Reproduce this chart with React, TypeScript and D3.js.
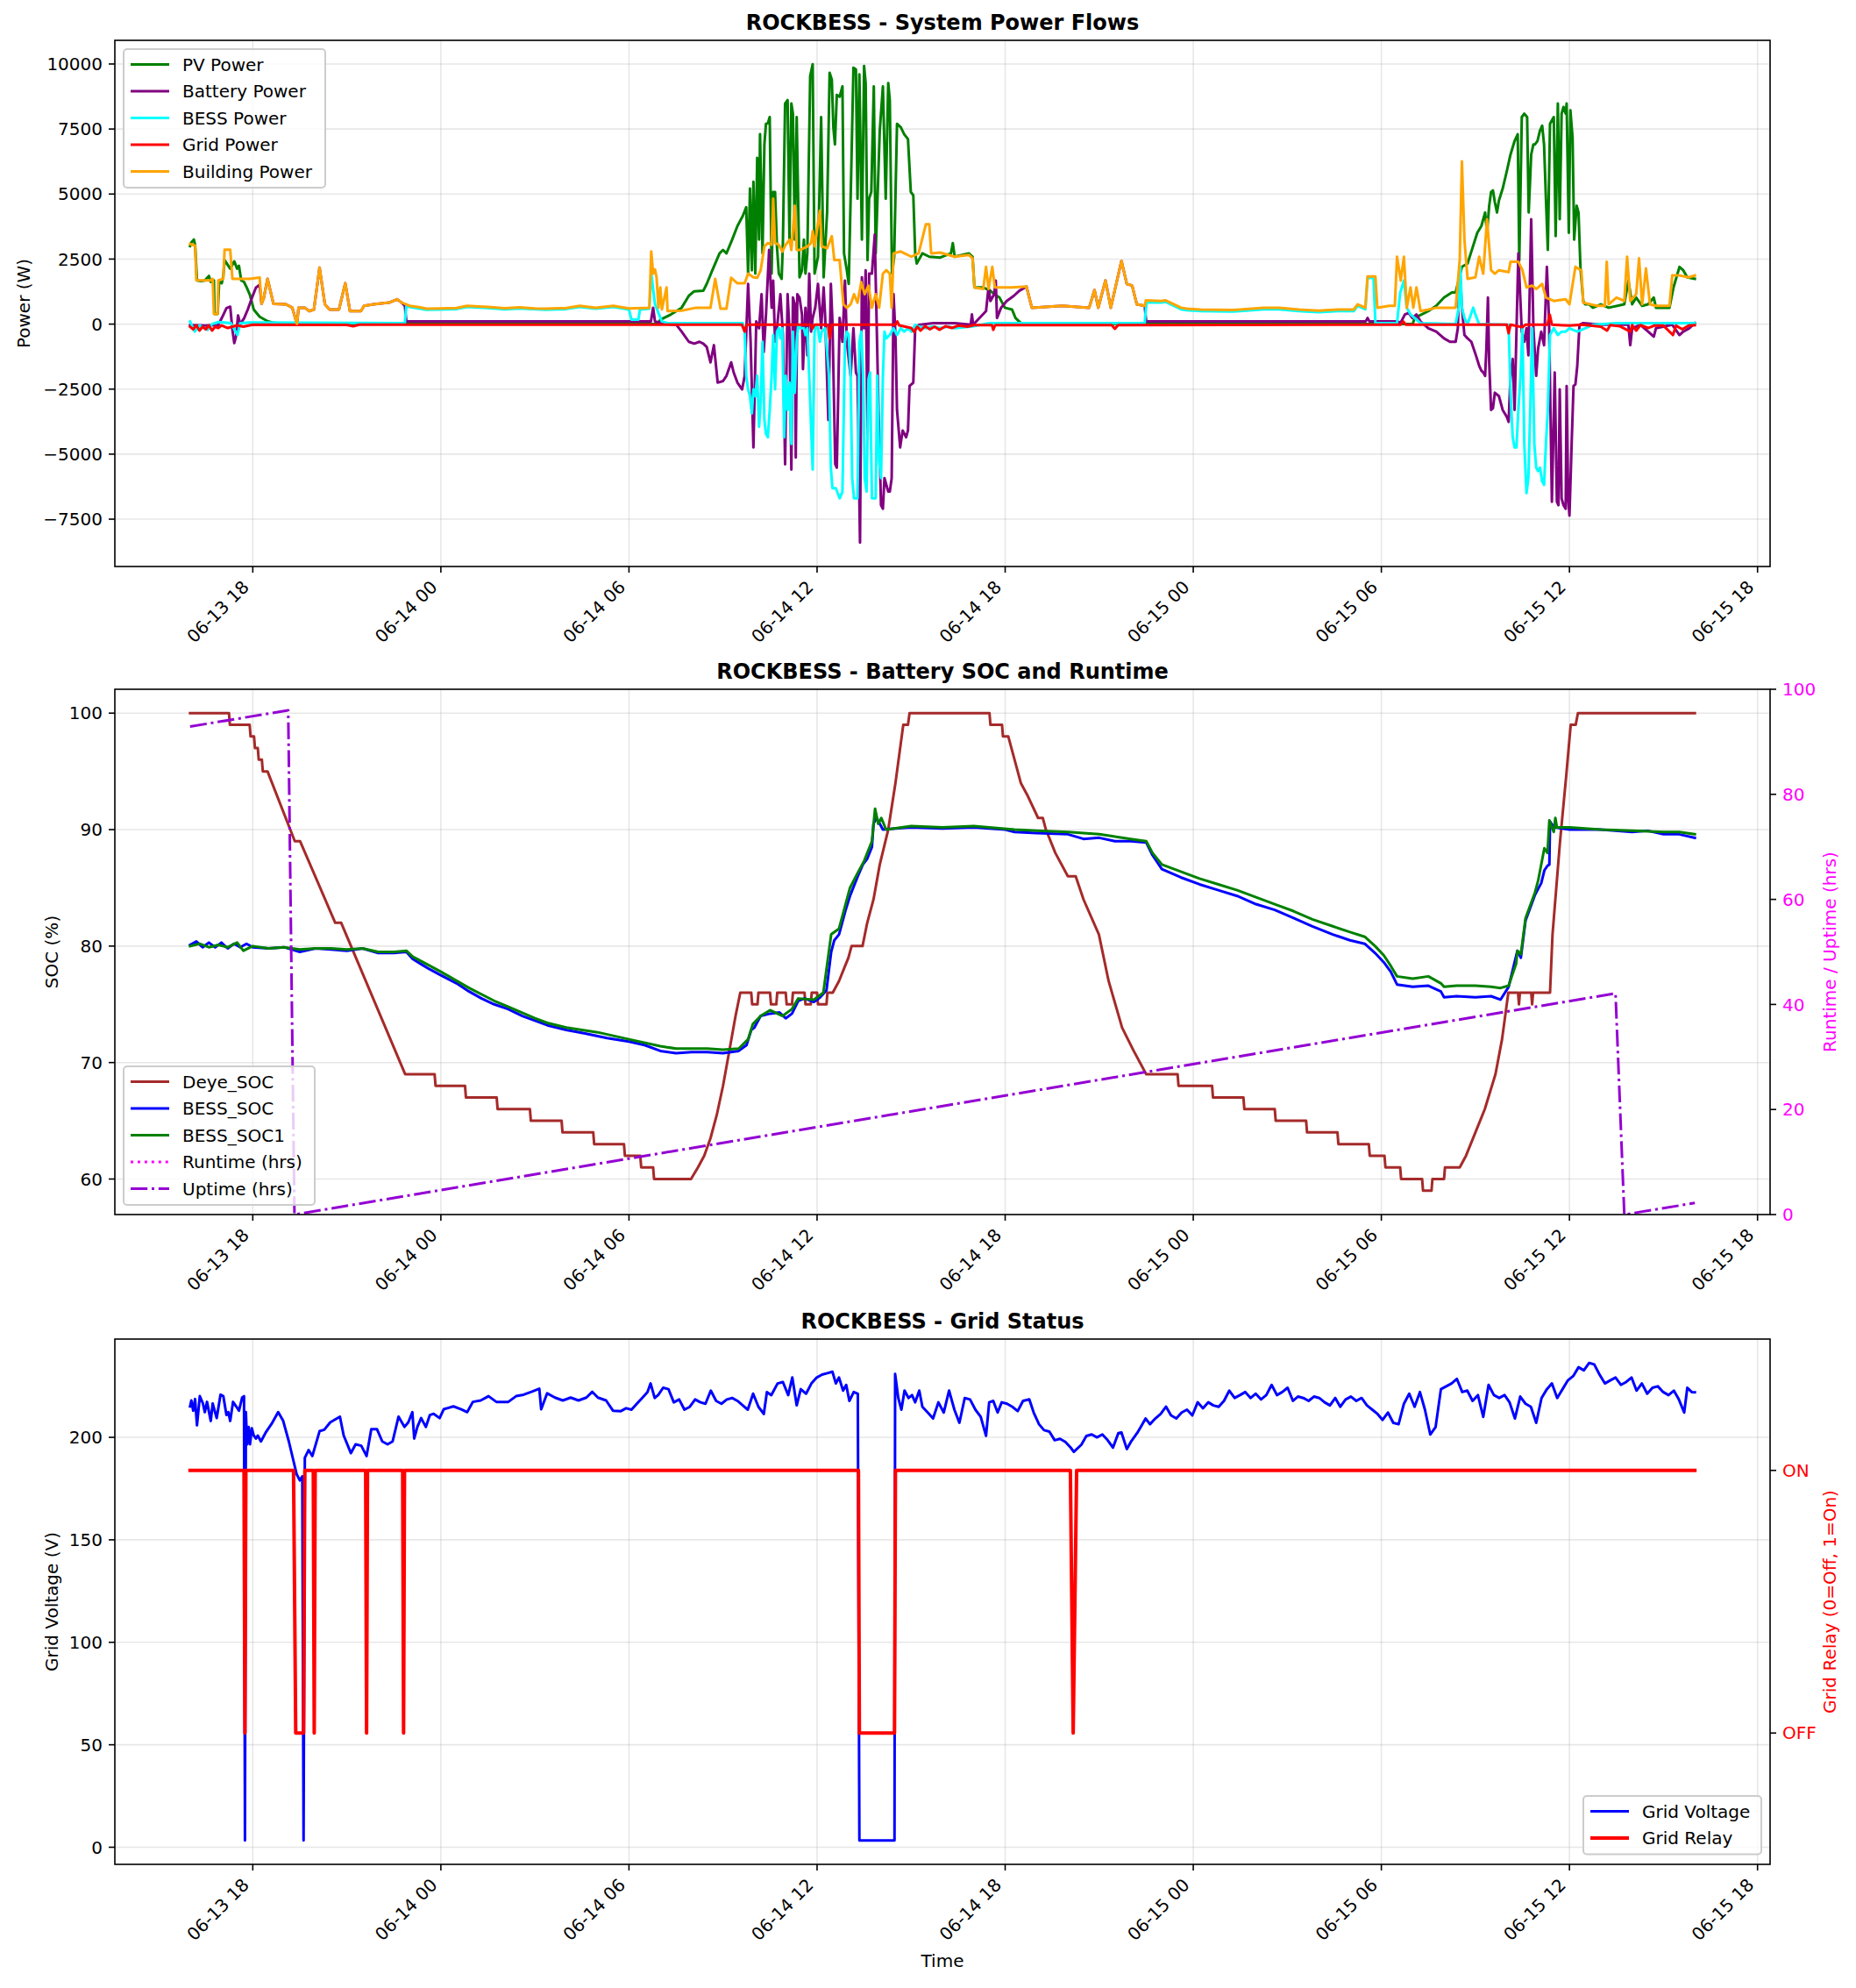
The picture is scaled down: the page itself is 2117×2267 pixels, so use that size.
import * as d3 from "d3";

// every point is [hours since 06-13 16:00, value]
type Pt = [number, number];

const START = new Date(2025, 5, 13, 16, 0, 0).getTime();
const toTime = (h: number) => new Date(START + h * 3600 * 1000);

// ---- System power flows (W) ----
const PV_POWER: Pt[] = [
  [0, 3000], [0.04, 3140], [0.12, 3250], [0.16, 3050], [0.22, 1680], [0.35, 1650], [0.47, 1680], [0.6, 1850],
  [0.66, 1620], [0.76, 1680], [0.78, 390], [0.88, 390], [0.93, 1680], [1.01, 1570], [1.06, 1850], [1.1, 2460],
  [1.28, 2130], [1.41, 2410], [1.5, 2130], [1.56, 2240], [1.63, 1680], [1.72, 1620], [1.81, 1400], [1.91, 1120],
  [2.03, 560], [2.22, 280], [2.47, 110], [2.66, 50], [3.0, 10], [4.0, 0], [14.9, 0], [15.0, 170], [15.34, 370],
  [15.68, 630], [15.91, 1090], [16.08, 1260], [16.37, 1280], [16.48, 1545], [16.66, 2070], [16.89, 2720],
  [17.0, 2850], [17.11, 2720], [17.29, 3245], [17.46, 3770], [17.63, 4160], [17.74, 4490], [17.8, 1940],
  [17.86, 5210], [17.92, 2070], [17.97, 5470], [18.03, 1940], [18.09, 6390], [18.15, 3245], [18.18, 7300],
  [18.23, 4550], [18.26, 2720], [18.32, 6910], [18.37, 7700], [18.43, 7720], [18.49, 7960], [18.55, 1940],
  [18.6, 5080], [18.66, 5080], [18.72, 2985], [18.78, 1940], [18.87, 1740], [18.91, 3115], [18.98, 8480],
  [19.06, 8610], [19.12, 3245], [19.18, 8480], [19.23, 8090], [19.29, 3245], [19.35, 7960], [19.44, 1800],
  [19.52, 2070], [19.58, 3245], [19.63, 1940], [19.69, 2720], [19.78, 9530], [19.86, 9990], [19.92, 1940],
  [20.03, 2590], [20.13, 7960], [20.21, 1800], [20.32, 4290], [20.4, 9660], [20.47, 9400], [20.52, 7570],
  [20.57, 6910], [20.63, 8810], [20.72, 8740], [20.81, 9140], [20.86, 2720], [20.95, 2070], [21.01, 1545],
  [21.09, 5870], [21.16, 9860], [21.24, 9790], [21.29, 4820], [21.35, 9600], [21.43, 3245], [21.5, 9920],
  [21.55, 9270], [21.61, 2460], [21.66, 4820], [21.73, 5080], [21.81, 9140], [21.87, 2720], [21.92, 4550],
  [22.0, 7440], [22.1, 9140], [22.19, 4820], [22.27, 9270], [22.32, 8610], [22.39, 1940], [22.46, 2590],
  [22.55, 7700], [22.67, 7570], [22.78, 7300], [22.9, 7110], [22.99, 5080], [23.07, 4950], [23.13, 2720],
  [23.18, 2330], [23.24, 2460], [23.36, 2720], [23.58, 2590], [23.93, 2560], [24.27, 2720], [24.33, 3115],
  [24.39, 2590], [24.84, 2720], [24.96, 2590], [25.02, 1410], [25.3, 1410], [25.53, 1280], [25.65, 1150],
  [25.82, 1020], [25.99, 630], [26.22, 560], [26.33, 235], [26.5, 40], [26.8, 0], [39.0, 0], [39.06, 235],
  [39.5, 500], [39.75, 700], [40.0, 1020], [40.25, 1220], [40.37, 1220], [40.57, 2200], [40.75, 2330],
  [40.87, 2790], [41.06, 3510], [41.19, 3770], [41.31, 4290], [41.37, 3510], [41.44, 4550], [41.5, 5080],
  [41.56, 5140], [41.62, 4690], [41.69, 4290], [41.75, 4750], [41.87, 5210], [42.0, 5870], [42.12, 6520],
  [42.25, 7040], [42.35, 7300], [42.4, 2460], [42.48, 7960], [42.56, 8090], [42.65, 7960], [42.7, 4290],
  [42.78, 6520], [42.85, 6910], [42.9, 6910], [42.98, 7040], [43.06, 7440], [43.13, 7630], [43.19, 6910],
  [43.25, 4820], [43.31, 2850], [43.38, 7700], [43.44, 7830], [43.5, 7960], [43.56, 3380], [43.63, 8480],
  [43.69, 4030], [43.75, 8090], [43.81, 8350], [43.88, 8090], [43.91, 8480], [43.98, 3510], [44.03, 8220],
  [44.1, 7170], [44.15, 3245], [44.23, 4550], [44.29, 4290], [44.35, 2200], [44.44, 890], [44.5, 760],
  [44.63, 760], [44.75, 630], [45.0, 760], [45.25, 630], [45.75, 760], [45.88, 1675], [46.0, 760],
  [46.13, 1020], [46.32, 700], [46.51, 760], [46.69, 1020], [46.76, 630], [47.19, 630], [47.32, 1410],
  [47.51, 2200], [47.63, 2070], [47.76, 1800], [48.0, 1740],
];

const BUILDING_POWER: Pt[] = [
  [0, 3080], [0.16, 3020], [0.2, 1680], [0.66, 1680], [0.72, 1740], [0.76, 390], [0.88, 390], [0.9, 1680],
  [1.06, 1740], [1.1, 2860], [1.28, 2860], [1.35, 1740], [1.9, 1740], [2.22, 1790], [2.28, 780], [2.35, 1000],
  [2.47, 1740], [2.66, 780], [3.06, 760], [3.26, 630], [3.41, 0], [3.46, 630], [3.66, 630], [3.8, 500],
  [3.95, 560], [4.13, 2170], [4.3, 760], [4.45, 560], [4.75, 560], [4.95, 1570], [5.1, 500], [5.45, 500],
  [5.55, 700], [5.85, 760], [6.35, 825], [6.6, 955], [6.75, 825], [6.9, 760], [7.0, 700], [7.3, 650],
  [7.54, 590], [8.0, 600], [8.5, 620], [8.84, 700], [9.2, 680], [9.5, 660], [10.04, 610], [10.5, 640],
  [11.0, 600], [11.33, 590], [12.0, 620], [12.43, 700], [12.94, 630], [13.5, 700], [14.0, 600], [14.65, 630],
  [14.71, 2790], [14.77, 1940], [14.83, 2100], [14.88, 1800], [14.94, 630], [15.0, 1410], [15.05, 560],
  [15.2, 1410], [15.23, 500], [15.68, 520], [16.14, 630], [16.6, 630], [16.75, 1740], [16.92, 590],
  [17.11, 590], [17.26, 1780], [17.46, 1570], [17.69, 1570], [17.8, 1940], [17.97, 1800], [18.09, 1780],
  [18.2, 2070], [18.32, 2985], [18.43, 3115], [18.55, 3050], [18.6, 4820], [18.66, 3115], [18.78, 3050],
  [18.89, 2790], [19.0, 3050], [19.12, 3245], [19.18, 2850], [19.29, 4550], [19.35, 2850], [19.46, 2850],
  [19.58, 2920], [19.69, 2985], [19.81, 3115], [19.86, 3575], [19.92, 2985], [20.09, 4360], [20.15, 2985],
  [20.32, 2920], [20.47, 3380], [20.55, 2460], [20.72, 2460], [20.84, 760], [20.95, 630], [21.07, 760],
  [21.18, 1150], [21.29, 820], [21.41, 1610], [21.52, 1150], [21.64, 1480], [21.75, 630], [21.87, 1150],
  [21.98, 630], [22.1, 1940], [22.21, 2070], [22.32, 1940], [22.38, 630], [22.44, 2720], [22.67, 2790],
  [23.01, 2590], [23.24, 2720], [23.47, 3835], [23.58, 3835], [23.64, 2720], [23.93, 2750], [24.39, 2590],
  [24.84, 2660], [24.96, 2530], [25.02, 1410], [25.3, 1350], [25.39, 2200], [25.47, 1350], [25.59, 2200],
  [25.67, 1410], [26.22, 1410], [26.68, 1440], [26.85, 630], [27.82, 700], [28.68, 630], [28.85, 1310],
  [28.97, 630], [29.2, 1675], [29.37, 630], [29.71, 2430], [29.88, 1545], [30.05, 1480], [30.2, 760],
  [30.45, 700], [30.49, 915], [30.99, 890], [31.11, 915], [31.61, 630], [31.8, 590], [32.24, 560],
  [33.24, 540], [33.49, 560], [34.24, 630], [34.74, 630], [35.37, 560], [35.99, 520], [36.62, 560],
  [37.12, 560], [37.24, 760], [37.49, 630], [37.56, 1830], [37.81, 1830], [37.87, 630], [38.25, 700],
  [38.43, 700], [38.5, 2590], [38.62, 1675], [38.72, 2590], [38.81, 630], [38.93, 1410], [39.02, 630],
  [39.12, 1410], [39.25, 500], [39.5, 560], [39.75, 630], [40.37, 630], [40.5, 2460], [40.57, 6260],
  [40.65, 3245], [40.75, 1740], [41.0, 1800], [41.12, 2590], [41.25, 1940], [41.37, 4030], [41.5, 2070],
  [41.62, 1940], [41.75, 2070], [42.06, 2000], [42.12, 2400], [42.37, 2400], [42.5, 2070], [42.63, 1410],
  [42.81, 1480], [42.94, 1350], [43.13, 1545], [43.25, 1020], [43.5, 890], [43.88, 955], [44.0, 760],
  [44.19, 2200], [44.38, 2070], [44.44, 825], [44.88, 700], [45.13, 700], [45.19, 2400], [45.25, 760],
  [45.5, 1020], [45.75, 890], [45.84, 2590], [45.94, 890], [46.13, 1150], [46.22, 2530], [46.32, 760],
  [46.44, 2140], [46.57, 760], [46.76, 700], [47.19, 700], [47.28, 1870], [47.51, 1870], [47.8, 1800],
  [48.0, 1870],
];

const BATTERY_POWER: Pt[] = [
  [0, -40], [0.5, -60], [0.9, -30], [1.03, 280], [1.16, 615], [1.28, 670], [1.35, -220], [1.41, -730],
  [1.47, -450], [1.53, 335], [1.6, 0], [1.72, 220], [1.84, 560], [1.97, 1000], [2.1, 1400], [2.22, 1510],
  [2.28, 780], [2.35, 1000], [2.47, 1740], [2.66, 780], [3.06, 760], [3.26, 630], [3.41, 0], [3.46, 630],
  [3.66, 630], [3.8, 500], [3.95, 560], [4.13, 2170], [4.3, 760], [4.45, 560], [4.75, 560], [4.95, 1570],
  [5.1, 500], [5.45, 500], [5.55, 700], [5.85, 760], [6.35, 825], [6.6, 955], [6.75, 825], [6.85, 700],
  [6.9, 100], [14.7, 100], [14.77, 630], [14.83, 100], [15.0, 60], [15.23, 0], [15.51, -25], [15.68, -290],
  [15.91, -680], [16.08, -750], [16.25, -680], [16.37, -750], [16.48, -880], [16.6, -1470], [16.71, -810],
  [16.83, -2250], [17.0, -2190], [17.11, -1990], [17.26, -1470], [17.34, -1860], [17.46, -2250],
  [17.61, -2510], [17.69, -1990], [17.8, 1545], [17.88, -680], [17.97, -4740], [18.06, 100], [18.15, -160],
  [18.23, 1150], [18.3, -1070], [18.37, 360], [18.47, 2850], [18.55, 630], [18.6, 1675], [18.66, -680],
  [18.72, -160], [18.83, 1150], [18.91, -420], [18.98, -5390], [19.06, 1150], [19.12, -290], [19.18, -5590],
  [19.23, 1020], [19.29, 760], [19.32, -5130], [19.37, 1150], [19.44, 1020], [19.52, 360], [19.55, -1730],
  [19.63, 630], [19.69, -1200], [19.75, 1940], [19.81, -290], [19.86, 235], [19.94, 630], [20.03, 1545],
  [20.13, -160], [20.21, 1410], [20.26, 235], [20.36, -3690], [20.44, 1545], [20.49, 100], [20.58, -5390],
  [20.63, -5520], [20.72, 235], [20.81, -680], [20.89, 1675], [20.95, -680], [21.07, -1990], [21.16, -160],
  [21.24, -1860], [21.29, -1990], [21.37, -8400], [21.43, 1800], [21.5, -160], [21.55, 2070], [21.61, -4350],
  [21.66, 1940], [21.75, 1940], [21.84, 3440], [21.89, 630], [21.96, -3300], [22.04, -6960], [22.1, -7100],
  [22.15, -5920], [22.21, -6180], [22.27, -6440], [22.32, -6440], [22.38, -5920], [22.44, 1150],
  [22.5, -420], [22.55, -3300], [22.65, -4740], [22.73, -4090], [22.84, -4350], [22.9, -4090],
  [22.95, -2380], [23.07, -2250], [23.13, -160], [23.24, -30], [23.7, 40], [24.39, 40], [24.9, -25],
  [24.94, 370], [24.98, -25], [25.39, 500], [25.47, 1410], [25.53, 890], [25.65, 1150], [25.7, 1675],
  [25.74, 235], [25.87, 630], [26.05, 890], [26.28, 1090], [26.45, 1280], [26.68, 1440], [26.85, 630],
  [27.82, 700], [28.68, 630], [28.85, 1310], [28.97, 630], [29.2, 1675], [29.37, 630], [29.71, 2430],
  [29.88, 1545], [30.05, 1480], [30.2, 760], [30.45, 700], [30.5, 100], [37.5, 100], [37.56, 235],
  [37.62, 100], [38.5, 100], [38.62, 60], [38.75, 370], [38.87, 430], [38.99, 235], [39.12, 370],
  [39.25, 100], [39.37, -25], [39.5, -160], [39.75, -290], [40.0, -550], [40.19, -680], [40.37, -680],
  [40.44, -160], [40.5, 2200], [40.57, 630], [40.65, -420], [40.75, -550], [40.87, -680], [41.0, -1140],
  [41.12, -1600], [41.19, -1790], [41.25, -1860], [41.31, -1990], [41.35, -940], [41.4, 1020],
  [41.44, -1470], [41.5, -3300], [41.56, -3230], [41.62, -2640], [41.75, -2770], [41.87, -3300],
  [42.0, -3560], [42.06, -3760], [42.12, -1990], [42.19, -1340], [42.25, -3300], [42.37, 2720],
  [42.48, -290], [42.56, -680], [42.63, -160], [42.69, -1200], [42.78, 4030], [42.85, -160], [42.94, -1990],
  [43.0, -940], [43.1, -290], [43.19, -810], [43.28, 2200], [43.35, 100], [43.44, -6830], [43.53, -1860],
  [43.6, -6830], [43.65, -6960], [43.69, -2510], [43.75, -6700], [43.81, -6960], [43.88, -7100],
  [43.91, -2380], [43.96, -6700], [44.0, -7360], [44.07, -4610], [44.13, -2380], [44.19, -2320],
  [44.25, -1600], [44.32, -30], [44.44, 40], [45.0, -25], [45.88, -25], [45.94, -810], [46.0, -160],
  [46.26, -25], [46.51, -290], [46.69, -480], [46.76, -160], [47.28, -25], [47.51, -420], [47.63, -290],
  [47.82, -160], [48.0, 40],
];

const BESS_POWER: Pt[] = [
  [0, 100], [0.15, -290], [0.3, -50], [0.56, -220], [0.7, 0], [0.9, 80], [1.3, 40], [1.51, -420], [1.6, 40],
  [1.9, 60], [6.85, 40], [6.9, 700], [7.0, 660], [7.54, 550], [8.0, 560], [8.5, 580], [8.84, 660],
  [9.5, 620], [10.04, 570], [10.5, 600], [11.33, 550], [12.0, 580], [12.43, 660], [12.94, 590], [13.5, 660],
  [14.0, 560], [14.08, 170], [14.3, 170], [14.35, 560], [14.65, 590], [14.71, 1940], [14.83, 760],
  [14.94, 430], [15.05, 100], [15.23, 40], [17.63, 40], [17.69, -290], [17.74, -1990], [17.8, -2510],
  [17.86, -2770], [17.92, -3430], [17.97, -2510], [18.03, -2770], [18.09, -1990], [18.15, -3950],
  [18.2, -3040], [18.26, -680], [18.32, -3690], [18.37, -4220], [18.43, -4350], [18.49, -3300],
  [18.55, -1990], [18.6, -420], [18.66, -2510], [18.72, -290], [18.78, -160], [18.83, -550], [18.89, -160],
  [18.95, -4350], [19.0, -1990], [19.06, -3300], [19.12, -2250], [19.18, -4610], [19.23, -290],
  [19.29, -2640], [19.35, -680], [19.4, -30], [19.46, -160], [19.58, -160], [19.63, -420], [19.69, -160],
  [19.75, -1990], [19.81, -3950], [19.86, -5590], [19.92, -290], [19.98, -30], [20.03, -160], [20.09, -680],
  [20.15, -290], [20.26, -160], [20.38, -1990], [20.44, -5520], [20.49, -6310], [20.6, -6310],
  [20.72, -6700], [20.81, -6440], [20.89, -680], [20.95, -290], [21.01, -420], [21.07, -1990],
  [21.12, -5920], [21.18, -6700], [21.29, -6700], [21.35, -680], [21.41, -290], [21.47, -1990],
  [21.52, -5920], [21.58, -6440], [21.64, -2120], [21.69, -1860], [21.75, -6700], [21.87, -6700],
  [21.92, -1990], [21.98, -5270], [22.04, -5920], [22.1, -1990], [22.15, -290], [22.21, -550],
  [22.32, -420], [22.44, -160], [22.55, -420], [22.67, -160], [22.78, -290], [22.9, -160], [23.01, -290],
  [23.13, -30], [23.24, -90], [23.47, -160], [23.7, -90], [23.93, -160], [24.2, -90], [24.39, -160],
  [24.96, -90], [25.5, 40], [30.45, 40], [30.51, 825], [31.0, 830], [31.11, 855], [31.61, 570], [31.8, 530],
  [32.24, 500], [33.24, 480], [33.49, 500], [34.24, 570], [34.74, 570], [35.37, 500], [35.99, 460],
  [36.62, 500], [37.12, 500], [37.24, 700], [37.49, 570], [37.56, 1770], [37.75, 1770], [37.81, 40],
  [38.5, 40], [38.6, 1200], [38.72, 1675], [38.81, 630], [38.93, 370], [39.25, 40], [40.37, 0],
  [40.47, 630], [40.52, 2200], [40.57, 630], [40.65, 235], [40.75, 0], [40.93, 630], [41.0, 370],
  [41.12, 0], [42.06, -25], [42.12, -2640], [42.19, -4350], [42.25, -4740], [42.31, -4740], [42.37, -3300],
  [42.44, -1990], [42.5, -160], [42.56, -4610], [42.63, -6500], [42.69, -5920], [42.75, -3300],
  [42.81, -160], [42.88, -4610], [42.94, -5520], [43.0, -5650], [43.06, -5520], [43.13, -6050],
  [43.19, -6180], [43.25, -4610], [43.31, -3300], [43.38, -420], [43.44, -290], [43.5, -160],
  [43.63, -420], [43.75, -290], [43.88, -290], [44.0, -160], [44.25, -290], [44.5, -160], [44.75, -25],
  [45.5, 40], [48.0, 40],
];

const GRID_POWER: Pt[] = [
  [0, -100], [0.1, -200], [0.2, -50], [0.3, -250], [0.4, -100], [0.5, -200], [0.6, -50], [0.7, -250],
  [0.8, -100], [0.9, -150], [1.0, -50], [1.2, -150], [1.5, -50], [1.7, -100], [2.0, -20], [5.0, -30],
  [5.2, -80], [5.4, -20], [17.6, -20], [17.69, -290], [17.75, -20], [19.8, -20], [19.86, -160],
  [19.92, -20], [20.35, -20], [20.4, -550], [20.47, -20], [22.5, -20], [22.56, 100], [22.62, -50],
  [23.0, -150], [23.1, -300], [23.2, -100], [23.3, -250], [23.45, -80], [23.6, -200], [23.75, -100],
  [23.9, -220], [24.1, -80], [24.3, -150], [24.5, -60], [24.8, -100], [25.0, -40], [25.58, -40],
  [25.62, -220], [25.68, -40], [29.4, -40], [29.5, -180], [29.6, -40], [38.62, -20], [38.7, 100],
  [38.78, -20], [42.0, -20], [42.06, -350], [42.12, -20], [42.5, -120], [42.6, -20], [43.3, -20],
  [43.37, 370], [43.44, -20], [44.0, -60], [44.4, -20], [45.0, -100], [45.2, -250], [45.3, -40],
  [45.6, -80], [45.94, -290], [46.0, -40], [46.13, -250], [46.26, -40], [46.51, -150], [46.7, -60],
  [47.0, -60], [47.3, -420], [47.4, -60], [47.6, -200], [47.8, -60], [48.0, -40],
];

// ---- Battery SOC (%) and runtime / uptime (hrs) ----
const DEYE_SOC: Pt[] = [
  [0, 100], [1.24, 100], [1.27, 99], [1.9, 99], [1.93, 98], [2.04, 98], [2.07, 97], [2.16, 97], [2.19, 96],
  [2.29, 96], [2.32, 95], [2.47, 95], [3.34, 89], [3.51, 89], [4.63, 82], [4.82, 82], [6.86, 69], [7.8, 69],
  [7.83, 68], [8.77, 68], [8.8, 67], [9.78, 67], [9.81, 66], [10.84, 66], [10.87, 65], [11.85, 65],
  [11.88, 64], [12.86, 64], [12.89, 63], [13.84, 63], [13.87, 62], [14.36, 62], [14.39, 61], [14.77, 61],
  [14.8, 60], [15.98, 60], [16.2, 61], [16.4, 62], [16.6, 63.5], [16.8, 65.5], [17.0, 68], [17.2, 71],
  [17.4, 74], [17.55, 76], [17.9, 76], [17.93, 75], [18.1, 75], [18.13, 76], [18.5, 76], [18.53, 75],
  [18.7, 75], [18.73, 76], [19.0, 76], [19.03, 75], [19.2, 75], [19.23, 76], [19.6, 76], [19.63, 75],
  [19.8, 75], [19.83, 76], [20.0, 76], [20.03, 75], [20.3, 75], [20.33, 76], [20.5, 76], [20.7, 77],
  [20.85, 78], [21.0, 79], [21.1, 80], [21.45, 80], [21.6, 82], [21.8, 84], [22.0, 87], [22.27, 90],
  [22.5, 94], [22.75, 99], [22.9, 99], [22.95, 100], [25.5, 100], [25.53, 99], [25.9, 99], [25.93, 98],
  [26.1, 98], [26.3, 96], [26.5, 94], [26.7, 93], [27.05, 91], [27.2, 91], [27.3, 90], [27.6, 88],
  [28.0, 86], [28.25, 86], [28.5, 84], [28.99, 81], [29.3, 77], [29.73, 73], [30.1, 71], [30.5, 69],
  [31.5, 69], [31.53, 68], [32.6, 68], [32.63, 67], [33.6, 67], [33.63, 66], [34.6, 66], [34.63, 65],
  [35.6, 65], [35.63, 64], [36.6, 64], [36.63, 63], [37.6, 63], [37.63, 62], [38.1, 62], [38.13, 61],
  [38.6, 61], [38.63, 60], [39.3, 60], [39.33, 59], [39.6, 59], [39.63, 60], [40.0, 60], [40.03, 61],
  [40.5, 61], [40.7, 62], [41.0, 64], [41.3, 66], [41.64, 69], [41.85, 72], [42.05, 76], [42.36, 76],
  [42.39, 75], [42.42, 76], [42.78, 76], [42.81, 75], [42.84, 76], [43.38, 76], [43.46, 81], [43.7, 89],
  [43.9, 94.7], [44.04, 99], [44.2, 99], [44.27, 100], [48.0, 100],
];

const BESS_SOC: Pt[] = [
  [0, 80.1], [0.2, 80.4], [0.4, 79.9], [0.6, 80.3], [0.8, 79.9], [1.0, 80.3], [1.2, 79.8], [1.4, 80.2],
  [1.6, 79.9], [1.8, 80.2], [2.0, 79.9], [2.5, 79.8], [3.0, 79.9], [3.5, 79.5], [4.0, 79.8], [4.5, 79.7],
  [5.0, 79.6], [5.5, 79.8], [6.0, 79.4], [6.5, 79.4], [6.9, 79.5], [7.1, 78.9], [7.4, 78.4], [7.65, 78.0],
  [8.0, 77.5], [8.5, 76.8], [8.9, 76.1], [9.3, 75.5], [9.7, 75.0], [10.14, 74.6], [10.6, 74.0],
  [11.0, 73.6], [11.4, 73.2], [12.0, 72.8], [12.6, 72.5], [13.3, 72.1], [14.0, 71.8], [14.5, 71.5],
  [15.0, 71.0], [15.5, 70.8], [16.0, 70.9], [16.5, 70.9], [17.0, 70.8], [17.5, 71.0], [17.75, 71.5],
  [17.9, 72.8], [18.0, 73.0], [18.2, 74.0], [18.5, 74.2], [18.8, 74.3], [19.0, 73.8], [19.2, 74.2],
  [19.4, 75.3], [19.6, 75.5], [19.9, 75.2], [20.1, 75.6], [20.3, 76.2], [20.45, 79.5], [20.55, 80.5],
  [20.7, 81.0], [20.9, 83.0], [21.05, 84.3], [21.3, 86.0], [21.46, 87.0], [21.6, 87.5], [21.75, 88.5],
  [21.8, 90.5], [21.9, 91.0], [22.1, 90.0], [22.5, 90.1], [23.0, 90.2], [24.0, 90.1], [25.0, 90.2],
  [26.0, 90.0], [26.3, 89.8], [27.0, 89.7], [28.0, 89.6], [28.5, 89.2], [29.0, 89.3], [29.5, 89.0],
  [30.0, 89.0], [30.5, 88.9], [30.7, 87.8], [31.0, 86.6], [31.6, 85.9], [32.2, 85.3], [32.8, 84.8],
  [33.4, 84.3], [34.0, 83.6], [34.6, 83.1], [35.2, 82.4], [35.8, 81.7], [36.45, 81.0], [37.0, 80.5],
  [37.47, 80.2], [37.8, 79.4], [38.08, 78.6], [38.3, 77.8], [38.5, 76.7], [39.0, 76.5], [39.5, 76.6],
  [39.9, 76.1], [40.0, 75.6], [40.4, 75.7], [41.0, 75.6], [41.5, 75.7], [41.8, 75.4], [42.06, 76.5],
  [42.34, 79.6], [42.45, 79.0], [42.6, 82.2], [42.9, 84.4], [43.1, 85.4], [43.2, 86.5], [43.3, 86.9],
  [43.36, 87.0], [43.38, 90.7], [43.5, 90.2], [44.0, 90.0], [45.0, 90.0], [46.0, 89.8], [46.5, 89.9],
  [47.0, 89.6], [47.5, 89.6], [48.0, 89.3],
];

const BESS_SOC1: Pt[] = [
  [0, 80.0], [0.3, 80.2], [0.6, 79.9], [0.9, 80.1], [1.2, 79.9], [1.5, 80.3], [1.7, 79.6], [2.0, 80.0],
  [2.5, 79.8], [3.0, 79.9], [3.5, 79.7], [4.0, 79.8], [4.5, 79.8], [5.0, 79.7], [5.5, 79.8], [6.0, 79.5],
  [6.5, 79.5], [6.9, 79.6], [7.1, 79.1], [7.65, 78.3], [8.0, 77.8], [8.9, 76.4], [9.7, 75.3], [10.14, 74.8],
  [11.0, 73.8], [11.4, 73.4], [12.0, 73.0], [13.0, 72.6], [14.0, 72.0], [15.0, 71.4], [15.5, 71.2],
  [16.5, 71.2], [17.0, 71.1], [17.5, 71.2], [17.8, 72.0], [17.95, 73.3], [18.2, 74.0], [18.5, 74.5],
  [18.9, 74.0], [19.2, 74.6], [19.4, 75.5], [19.9, 75.4], [20.2, 76.0], [20.45, 81.0], [20.7, 81.5],
  [20.9, 83.5], [21.05, 85.0], [21.3, 86.3], [21.5, 87.3], [21.75, 89.0], [21.85, 91.8], [21.95, 90.5],
  [22.05, 91.0], [22.2, 90.0], [23.0, 90.3], [24.0, 90.2], [25.0, 90.3], [26.3, 90.0], [27.0, 89.9],
  [28.0, 89.8], [29.0, 89.6], [30.0, 89.2], [30.5, 89.0], [30.7, 88.0], [31.0, 87.0], [31.6, 86.4],
  [32.2, 85.8], [32.8, 85.3], [33.4, 84.8], [34.0, 84.2], [34.6, 83.6], [35.2, 83.0], [35.8, 82.3],
  [36.45, 81.7], [37.0, 81.2], [37.47, 80.8], [37.8, 80.0], [38.08, 79.2], [38.3, 78.3], [38.5, 77.4],
  [39.0, 77.2], [39.5, 77.4], [39.9, 76.8], [40.0, 76.5], [40.4, 76.6], [41.0, 76.6], [41.5, 76.5],
  [41.8, 76.4], [42.06, 76.6], [42.3, 78.5], [42.34, 79.6], [42.45, 79.3], [42.6, 82.4], [42.9, 84.6],
  [43.0, 85.6], [43.2, 88.4], [43.3, 88.0], [43.36, 90.8], [43.42, 90.3], [43.5, 89.8], [43.55, 91.0],
  [43.6, 90.2], [44.0, 90.2], [45.0, 90.0], [46.0, 89.9], [47.0, 89.8], [47.5, 89.8], [48.0, 89.6],
];

const RUNTIME_HRS: Pt[] = [];
const UPTIME_HRS: Pt[] = [[0, 92.9], [3.13, 96.0], [3.33, 0], [45.47, 42.1], [45.75, 0], [48.0, 2.2]];

// ---- Grid status ----
const GRID_VOLTAGE: Pt[] = [
  [0, 215.1], [0.04, 218], [0.1, 213], [0.16, 218.7], [0.22, 205.9], [0.31, 220.1], [0.41, 216.5],
  [0.47, 212.3], [0.54, 217.3], [0.66, 208], [0.72, 216.5], [0.85, 209.4], [0.97, 220.8], [1.06, 220.1],
  [1.16, 210.9], [1.22, 212.3], [1.28, 208], [1.37, 217.3], [1.47, 215.1], [1.56, 213], [1.66, 219.4],
  [1.72, 220.1], [1.75, 3.3], [1.78, 212.3], [1.82, 196.6], [1.87, 205.1], [1.91, 196.6], [1.97, 204.4],
  [2.03, 200.9], [2.1, 199.4], [2.16, 200.9], [2.26, 198], [2.41, 202.3], [2.6, 206.6], [2.81, 212.3],
  [2.97, 208], [3.15, 198], [3.29, 189], [3.4, 182], [3.5, 179], [3.58, 181], [3.62, 3.3], [3.66, 190],
  [3.78, 193.8], [3.9, 190.9], [4.13, 203], [4.28, 203.7], [4.47, 207.3], [4.78, 210.1], [4.9, 200.9],
  [5.13, 192.3], [5.28, 196.6], [5.46, 195.9], [5.63, 190.9], [5.78, 204], [5.96, 204], [6.13, 198],
  [6.3, 196.6], [6.46, 198], [6.65, 210.1], [6.84, 205.1], [6.96, 207.3], [7.09, 212.3], [7.15, 199.4],
  [7.25, 205.1], [7.37, 209.4], [7.52, 205.1], [7.65, 210.9], [7.77, 211.5], [7.96, 209.4], [8.09, 213.7],
  [8.4, 215.1], [8.65, 213.7], [8.84, 212.3], [9.02, 217.3], [9.27, 218], [9.52, 220.1], [9.77, 217.3],
  [10.15, 217.3], [10.4, 220.1], [10.64, 220.8], [10.89, 222.2], [11.14, 223.7], [11.2, 213.7],
  [11.39, 221.5], [11.64, 219.4], [11.89, 218], [12.14, 219.4], [12.39, 218], [12.64, 219.4],
  [12.83, 222.2], [13.01, 219.4], [13.27, 218], [13.49, 213], [13.74, 212.8], [13.91, 214.2],
  [14.08, 213.5], [14.25, 216.4], [14.42, 219.2], [14.59, 222.1], [14.69, 226.3], [14.82, 219.2],
  [14.93, 220.6], [15.09, 224.2], [15.26, 223.5], [15.43, 217.1], [15.6, 218.5], [15.77, 213.5],
  [15.94, 214.9], [16.11, 218.5], [16.28, 217.1], [16.44, 216.4], [16.61, 222.8], [16.78, 217.8],
  [16.95, 216.4], [17.12, 218.5], [17.29, 219.2], [17.46, 217.8], [17.63, 215.6], [17.79, 213.5],
  [17.96, 221.3], [18.13, 214.9], [18.3, 211.4], [18.4, 222.1], [18.54, 220.6], [18.74, 226.3],
  [18.91, 227.0], [19.08, 220.6], [19.21, 229.2], [19.35, 215.6], [19.48, 223.5], [19.65, 221.3],
  [19.82, 226.3], [19.99, 229.2], [20.16, 230.6], [20.33, 231.3], [20.49, 232.0], [20.6, 226.3],
  [20.7, 229.2], [20.83, 222.8], [20.93, 225.6], [21.03, 217.8], [21.17, 222.1], [21.3, 221.3],
  [21.35, 3.3], [22.47, 3.3], [22.49, 230.9], [22.59, 219.2], [22.69, 213.5], [22.79, 222.8],
  [22.92, 219.2], [23.03, 220.6], [23.13, 217.1], [23.26, 222.8], [23.36, 214.9], [23.53, 212.1],
  [23.7, 209.2], [23.87, 217.1], [24.04, 212.1], [24.21, 222.8], [24.38, 213.5], [24.54, 207.1],
  [24.71, 219.2], [24.88, 218.5], [25.05, 213.5], [25.22, 210.0], [25.39, 200.7], [25.49, 217.1],
  [25.62, 217.8], [25.76, 212.1], [25.89, 217.1], [26.06, 216.4], [26.23, 214.9], [26.4, 212.8],
  [26.57, 217.8], [26.77, 218.5], [26.91, 212.1], [27.08, 206.4], [27.24, 203.5], [27.41, 202.8],
  [27.58, 198.6], [27.75, 199.3], [27.92, 197.8], [28.09, 195.0], [28.19, 192.9], [28.43, 196.4],
  [28.59, 200.7], [28.76, 201.4], [28.93, 200.0], [29.1, 201.4], [29.27, 198.6], [29.44, 195.0],
  [29.61, 202.1], [29.71, 202.4], [29.88, 194.3], [30.01, 197.8], [30.21, 202.1], [30.35, 205.7],
  [30.48, 209.2], [30.62, 206.4], [30.79, 209.2], [30.96, 211.4], [31.13, 215.0], [31.29, 210.7],
  [31.46, 209.2], [31.63, 212.1], [31.8, 213.5], [31.97, 210.7], [32.14, 217.1], [32.31, 214.2],
  [32.48, 217.1], [32.64, 215.6], [32.81, 214.9], [32.98, 217.8], [33.15, 222.8], [33.32, 219.2],
  [33.49, 220.6], [33.66, 222.1], [33.83, 219.2], [33.99, 221.3], [34.16, 218.5], [34.33, 220.6],
  [34.5, 225.6], [34.67, 220.6], [34.84, 222.1], [35.01, 224.2], [35.18, 217.8], [35.34, 219.9],
  [35.51, 219.2], [35.68, 217.8], [35.85, 219.9], [36.02, 219.2], [36.19, 217.1], [36.36, 215.6],
  [36.53, 219.2], [36.69, 214.9], [36.86, 218.5], [37.03, 219.9], [37.2, 217.8], [37.37, 219.2],
  [37.54, 215.6], [37.71, 213.5], [37.88, 211.4], [38.04, 208.5], [38.21, 212.1], [38.38, 207.1],
  [38.55, 206.4], [38.72, 216.4], [38.89, 221.3], [39.06, 214.9], [39.23, 222.1], [39.39, 213.5],
  [39.56, 201.4], [39.73, 205.0], [39.9, 223.5], [40.07, 224.9], [40.24, 226.3], [40.41, 228.5],
  [40.58, 222.1], [40.74, 222.8], [40.91, 217.8], [41.08, 220.6], [41.25, 210.0], [41.42, 225.6],
  [41.59, 220.6], [41.76, 219.2], [41.93, 220.6], [42.09, 217.1], [42.26, 209.2], [42.43, 219.9],
  [42.6, 216.4], [42.77, 214.9], [42.94, 207.1], [43.11, 219.2], [43.28, 223.5], [43.44, 226.3],
  [43.61, 219.2], [43.78, 223.5], [43.95, 227.8], [44.12, 229.9], [44.29, 234.2], [44.46, 232.7],
  [44.63, 236.3], [44.79, 235.6], [44.96, 230.6], [45.13, 226.3], [45.3, 227.8], [45.47, 229.2],
  [45.64, 225.6], [45.81, 227.0], [45.98, 229.2], [46.14, 222.8], [46.31, 226.3], [46.48, 221.3],
  [46.65, 224.2], [46.82, 224.9], [46.99, 222.1], [47.16, 220.6], [47.33, 222.8], [47.49, 218.5],
  [47.66, 212.1], [47.76, 224.2], [47.9, 222.1], [48.0, 222.0],
];

const GRID_RELAY: Pt[] = [
  [0, 1], [1.72, 1], [1.75, 0], [1.78, 1], [3.3, 1], [3.37, 0], [3.62, 0], [3.66, 1], [3.93, 1], [3.96, 0],
  [3.99, 1], [5.6, 1], [5.63, 0], [5.66, 1], [6.78, 1], [6.81, 0], [6.84, 1], [21.32, 1], [21.35, 0],
  [22.47, 0], [22.5, 1], [28.08, 1], [28.17, 0], [28.28, 1], [48.0, 1],
];

// ---- tick values ----
const POWER_TICKS = [-7500, -5000, -2500, 0, 2500, 5000, 7500, 10000];
const SOC_TICKS = [60, 70, 80, 90, 100];
const HOURS_TICKS = [0, 20, 40, 60, 80, 100];
const VOLT_TICKS = [0, 50, 100, 150, 200];
const RELAY_TICKS = [0, 1];
const RELAY_LABELS = ["OFF", "ON"];

// ---- layout ----
const WIDTH = 2117;
const HEIGHT = 2267;
const LEFT = 131;
const RIGHT = 2019;
const P1 = { top: 46, bottom: 646 };
const P2 = { top: 786, bottom: 1385 };
const P3 = { top: 1527, bottom: 2126 };
const FONT = "'DejaVu Sans', 'Liberation Sans', sans-serif";
const DASH_DOT = "19.2,4.8,3,4.8";
const DOTTED = "3,4.95";

const pad5 = (lo: number, hi: number): [number, number] => {
  const m = (hi - lo) * 0.05;
  return [lo - m, hi + m];
};
const valueDomain = (...series: Pt[][]) => {
  const [lo, hi] = d3.extent(series.flat(), (d) => d[1]) as [number, number];
  return pad5(lo, hi);
};
const [h0, h1] = pad5(
  ...(d3.extent(PV_POWER.concat(GRID_VOLTAGE), (d) => d[0]) as [number, number])
);

const x = d3.scaleTime().domain([toTime(h0), toTime(h1)]).range([LEFT, RIGHT]);
const xTicks = x.ticks(d3.timeHour.every(6)!);
const fmtTime = d3.timeFormat("%m-%d %H");
const fmtNum = (v: number) => (v < 0 ? "\u2212" + Math.abs(v) : String(v));

const yPower = d3
  .scaleLinear()
  .domain(valueDomain(PV_POWER, BATTERY_POWER, BESS_POWER, GRID_POWER, BUILDING_POWER))
  .range([P1.bottom, P1.top]);
const ySoc = d3.scaleLinear().domain(valueDomain(DEYE_SOC, BESS_SOC, BESS_SOC1)).range([P2.bottom, P2.top]);
const yHours = d3.scaleLinear().domain([0, 100]).range([P2.bottom, P2.top]);
const yVolt = d3.scaleLinear().domain(valueDomain(GRID_VOLTAGE)).range([P3.bottom, P3.top]);
const yRelay = d3.scaleLinear().domain([-0.5, 1.5]).range([P3.bottom, P3.top]);

type Panel = { top: number; bottom: number };
type Item = { label: string; color: string; width: number; dash?: string };

function path(data: Pt[], y: d3.ScaleLinear<number, number>) {
  return d3.line<Pt>().x((d) => x(toTime(d[0]))).y((d) => y(d[1]))(data) ?? "";
}

function Series({ data, y, color, width = 3, dash, clip }: {
  data: Pt[]; y: d3.ScaleLinear<number, number>; color: string; width?: number; dash?: string; clip: string;
}) {
  if (!data.length) return null;
  return (
    <path d={path(data, y)} fill="none" stroke={color} strokeWidth={width} strokeDasharray={dash}
      strokeLinejoin="round" strokeLinecap={dash ? "butt" : "square"} clipPath={`url(#${clip})`} />
  );
}

function Grid({ p, y, ticks }: { p: Panel; y: d3.ScaleLinear<number, number>; ticks: number[] }) {
  return (
    <g stroke="#b0b0b0" strokeOpacity={0.3} strokeWidth={1.6}>
      {xTicks.map((t, i) => <line key={"v" + i} x1={x(t)} x2={x(t)} y1={p.top} y2={p.bottom} />)}
      {ticks.map((v) => <line key={"h" + v} x1={LEFT} x2={RIGHT} y1={y(v)} y2={y(v)} />)}
    </g>
  );
}

function XAxis({ p }: { p: Panel }) {
  return (
    <g>
      {xTicks.map((t, i) => (
        <g key={i}>
          <line x1={x(t)} x2={x(t)} y1={p.bottom} y2={p.bottom + 7} stroke="#000" strokeWidth={1.6} />
          <text transform={`translate(${x(t) - 3},${p.bottom + 24.7}) rotate(-45)`} textAnchor="end"
            fontSize={20} fill="#000">{fmtTime(t)}</text>
        </g>
      ))}
    </g>
  );
}

function LeftAxis({ p, y, ticks, label, labelX }: {
  p: Panel; y: d3.ScaleLinear<number, number>; ticks: number[]; label: string; labelX: number;
}) {
  return (
    <g>
      {ticks.map((v) => (
        <g key={v}>
          <line x1={LEFT - 7} x2={LEFT} y1={y(v)} y2={y(v)} stroke="#000" strokeWidth={1.6} />
          <text x={LEFT - 14} y={y(v)} dy="0.36em" textAnchor="end" fontSize={20}>{fmtNum(v)}</text>
        </g>
      ))}
      <text transform={`translate(${labelX},${(p.top + p.bottom) / 2}) rotate(-90)`} textAnchor="middle"
        fontSize={20}>{label}</text>
    </g>
  );
}

function RightAxis({ p, y, ticks, labels, label, color }: {
  p: Panel; y: d3.ScaleLinear<number, number>; ticks: number[]; labels: string[]; label: string; color: string;
}) {
  return (
    <g>
      {ticks.map((v, i) => (
        <g key={v}>
          <line x1={RIGHT} x2={RIGHT + 7} y1={y(v)} y2={y(v)} stroke="#000" strokeWidth={1.6} />
          <text x={RIGHT + 14} y={y(v)} dy="0.36em" fontSize={20} fill={color}>{labels[i]}</text>
        </g>
      ))}
      <text transform={`translate(2094,${(p.top + p.bottom) / 2}) rotate(-90)`} textAnchor="middle"
        fontSize={20} fill={color}>{label}</text>
    </g>
  );
}

function Frame({ p, title }: { p: Panel; title: string }) {
  return (
    <g>
      <rect x={LEFT} y={p.top} width={RIGHT - LEFT} height={p.bottom - p.top} fill="none" stroke="#000"
        strokeWidth={1.6} />
      <text x={(LEFT + RIGHT) / 2} y={p.top - 12} textAnchor="middle" fontSize={24} fontWeight="bold">{title}</text>
    </g>
  );
}

function Legend({ x0, y0, w, items }: { x0: number; y0: number; w: number; items: Item[] }) {
  const h = 36 + (items.length - 1) * 30.5;
  return (
    <g>
      <rect x={x0} y={y0} width={w} height={h} rx={4} fill="#fff" fillOpacity={0.8} stroke="#cccccc"
        strokeWidth={2} />
      {items.map((it, i) => {
        const cy = y0 + 17.5 + i * 30.5;
        return (
          <g key={it.label}>
            <line x1={x0 + 8} x2={x0 + 52} y1={cy} y2={cy} stroke={it.color} strokeWidth={it.width}
              strokeDasharray={it.dash} />
            <text x={x0 + 67} y={cy} dy="0.36em" fontSize={20}>{it.label}</text>
          </g>
        );
      })}
    </g>
  );
}

export default function App() {
  const clips: [string, Panel][] = [["c1", P1], ["c2", P2], ["c3", P3]];
  return (
    <svg width={WIDTH} height={HEIGHT} viewBox={`0 0 ${WIDTH} ${HEIGHT}`} fontFamily={FONT}
      style={{ position: "absolute", left: 0, top: 0, background: "#fff" }}>
      <defs>
        {clips.map(([id, p]) => (
          <clipPath id={id} key={id}>
            <rect x={LEFT} y={p.top} width={RIGHT - LEFT} height={p.bottom - p.top} />
          </clipPath>
        ))}
      </defs>
      <rect width={WIDTH} height={HEIGHT} fill="#fff" />

      {/* Panel 1: power flows */}
      <Grid p={P1} y={yPower} ticks={POWER_TICKS} />
      <Series data={PV_POWER} y={yPower} color="green" clip="c1" />
      <Series data={BATTERY_POWER} y={yPower} color="purple" clip="c1" />
      <Series data={BESS_POWER} y={yPower} color="cyan" clip="c1" />
      <Series data={GRID_POWER} y={yPower} color="red" clip="c1" />
      <Series data={BUILDING_POWER} y={yPower} color="orange" clip="c1" />
      <Frame p={P1} title="ROCKBESS - System Power Flows" />
      <XAxis p={P1} />
      <LeftAxis p={P1} y={yPower} ticks={POWER_TICKS} label="Power (W)" labelX={34} />
      <Legend x0={141} y0={56} w={230} items={[
        { label: "PV Power", color: "green", width: 3 },
        { label: "Battery Power", color: "purple", width: 3 },
        { label: "BESS Power", color: "cyan", width: 3 },
        { label: "Grid Power", color: "red", width: 3 },
        { label: "Building Power", color: "orange", width: 3 },
      ]} />

      {/* Panel 2: SOC and runtime */}
      <Grid p={P2} y={ySoc} ticks={SOC_TICKS} />
      <Series data={DEYE_SOC} y={ySoc} color="brown" clip="c2" />
      <Series data={BESS_SOC} y={ySoc} color="blue" clip="c2" />
      <Series data={BESS_SOC1} y={ySoc} color="green" clip="c2" />
      <Series data={RUNTIME_HRS} y={yHours} color="magenta" dash={DOTTED} clip="c2" />
      <Series data={UPTIME_HRS} y={yHours} color="darkviolet" dash={DASH_DOT} clip="c2" />
      <Frame p={P2} title="ROCKBESS - Battery SOC and Runtime" />
      <XAxis p={P2} />
      <LeftAxis p={P2} y={ySoc} ticks={SOC_TICKS} label="SOC (%)" labelX={66} />
      <RightAxis p={P2} y={yHours} ticks={HOURS_TICKS} labels={HOURS_TICKS.map(String)}
        label="Runtime / Uptime (hrs)" color="magenta" />
      <Legend x0={141} y0={1216} w={218} items={[
        { label: "Deye_SOC", color: "brown", width: 3 },
        { label: "BESS_SOC", color: "blue", width: 3 },
        { label: "BESS_SOC1", color: "green", width: 3 },
        { label: "Runtime (hrs)", color: "magenta", width: 3, dash: DOTTED },
        { label: "Uptime (hrs)", color: "darkviolet", width: 3, dash: DASH_DOT },
      ]} />

      {/* Panel 3: grid status */}
      <Grid p={P3} y={yVolt} ticks={VOLT_TICKS} />
      <Series data={GRID_VOLTAGE} y={yVolt} color="blue" clip="c3" />
      <Series data={GRID_RELAY} y={yRelay} color="red" width={4} clip="c3" />
      <Frame p={P3} title="ROCKBESS - Grid Status" />
      <XAxis p={P3} />
      <LeftAxis p={P3} y={yVolt} ticks={VOLT_TICKS} label="Grid Voltage (V)" labelX={66} />
      <RightAxis p={P3} y={yRelay} ticks={RELAY_TICKS} labels={RELAY_LABELS}
        label="Grid Relay (0=Off, 1=On)" color="red" />
      <Legend x0={1806} y0={2048} w={203} items={[
        { label: "Grid Voltage", color: "blue", width: 3 },
        { label: "Grid Relay", color: "red", width: 4 },
      ]} />
      <text x={(LEFT + RIGHT) / 2} y={2243} textAnchor="middle" fontSize={20}>Time</text>
    </svg>
  );
}
